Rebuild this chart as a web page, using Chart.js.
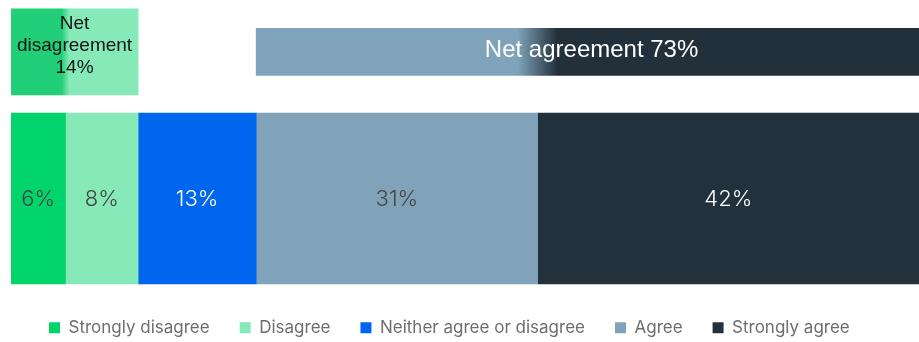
<!DOCTYPE html>
<html>
<head>
<meta charset="utf-8">
<script src="https://cdn.jsdelivr.net/npm/chart.js@4.4.1/dist/chart.umd.min.js"></script>
<style>
  html, body { margin: 0; padding: 0; background: #ffffff; }
  canvas { display: block; }
</style>
</head>
<body>
<canvas id="chart" width="919" height="342"></canvas>
<script>
// Response categories and their shares (%)
const categories = ['Strongly disagree', 'Disagree', 'Neither agree or disagree', 'Agree', 'Strongly agree'];
const shares = [6, 8, 13, 31, 42];

// Which categories roll up into the net bars
const disagreeIdx = [0, 1];
const agreeIdx = [3, 4];

// Net bar captions
const netDisagreeCaption = ['Net', 'disagreement'];
const netAgreeCaption = 'Net agreement';

// Styling
const fills = ['#00d46a', '#85e9b8', '#0066ee', '#80a3b9', '#22313c'];
const valueInk = ['#444444', '#444444', '#ffffff', '#444444', '#ffffff'];
const netDisagreeFill = ['#20cf78', '#86e9b8'];
const netAgreeFill = ['#7fa3b8', '#22303b'];

// Cumulative starts so each segment is a floating [start, end] bar
const starts = shares.map((_, i) => shares.slice(0, i).reduce((a, b) => a + b, 0));
const sumOf = idx => idx.reduce((a, i) => a + shares[i], 0);
const netDisagree = sumOf(disagreeIdx);
const netAgree = sumOf(agreeIdx);
const netAgreeStart = starts[agreeIdx[0]];
const netDisagreeStart = starts[disagreeIdx[0]];

// Gradient across a net bar, switching colour where its first part ends
function netGradient(firstPart, colors) {
  return (context) => {
    const chart = context.chart;
    const xs = chart.scales.x;
    const raw = context.raw;
    if (!xs || !Array.isArray(raw)) return colors[0];
    const x0 = xs.getPixelForValue(raw[0]);
    const x1 = xs.getPixelForValue(raw[1]);
    if (!isFinite(x0) || !isFinite(x1) || x1 === x0) return colors[0];
    const t = firstPart / (raw[1] - raw[0]);
    const g = chart.ctx.createLinearGradient(x0, 0, x1, 0);
    g.addColorStop(0, colors[0]);
    g.addColorStop(Math.max(0, t - 0.03), colors[0]);
    g.addColorStop(Math.min(1, t + 0.03), colors[1]);
    g.addColorStop(1, colors[1]);
    return g;
  };
}

const mainSets = categories.map((name, i) => ({
  label: name,
  data: [[starts[i], starts[i] + shares[i]]],
  backgroundColor: fills[i],
  borderWidth: 0,
  yAxisID: 'yMain',
  grouped: false,
  barThickness: 171
}));

const netSets = [
  {
    label: 'Net disagreement',
    data: [[netDisagreeStart, netDisagreeStart + netDisagree]],
    backgroundColor: netGradient(shares[disagreeIdx[0]], netDisagreeFill),
    borderWidth: 0,
    yAxisID: 'yNet',
    grouped: false,
    barThickness: 86
  },
  {
    label: 'Net agreement',
    data: [[netAgreeStart, netAgreeStart + netAgree]],
    backgroundColor: netGradient(shares[agreeIdx[0]], netAgreeFill),
    borderWidth: 0,
    yAxisID: 'yNet',
    grouped: false,
    barThickness: 47
  }
];

// Text drawn on the bars
const barText = {
  id: 'barText',
  afterDatasetsDraw(chart) {
    const ctx = chart.ctx;
    ctx.save();
    ctx.textAlign = 'center';

    // Segment values
    ctx.font = '300 22px Inter, "Noto Sans", sans-serif';
    ctx.textBaseline = 'middle';
    shares.forEach((v, i) => {
      const el = chart.getDatasetMeta(i).data[0];
      if (!el) return;
      ctx.fillStyle = valueInk[i];
      ctx.fillText(v + '%', (el.x + el.base) / 2, el.y + 1);
    });

    // Net disagreement caption (three lines)
    const nd = chart.getDatasetMeta(shares.length).data[0];
    if (nd) {
      ctx.font = '19px "Liberation Sans", Arial, sans-serif';
      ctx.textBaseline = 'alphabetic';
      ctx.fillStyle = '#151515';
      const lines = [...netDisagreeCaption, netDisagree + '%'];
      const cx = (nd.x + nd.base) / 2;
      lines.forEach((t, k) => ctx.fillText(t, cx, nd.y - 1 + (k - 1) * 22));
    }

    // Net agreement caption
    const na = chart.getDatasetMeta(shares.length + 1).data[0];
    if (na) {
      ctx.font = '24px "Liberation Sans", Arial, sans-serif';
      ctx.textBaseline = 'alphabetic';
      ctx.fillStyle = '#ffffff';
      ctx.fillText(netAgreeCaption + ' ' + netAgree + '%', (na.x + na.base) / 2 + 4, na.y + 5);
    }
    ctx.restore();
  }
};

// Nudge the legend row a little up and to the right of its default slot
const legendNudge = {
  id: 'legendNudge',
  afterLayout(chart) {
    const l = chart.legend;
    if (!l) return;
    l.top -= 4; l.bottom -= 4;
    l.left += 8; l.right += 8;
  }
};

new Chart(document.getElementById('chart'), {
  type: 'bar',
  data: {
    labels: ['Responses'],
    datasets: [...mainSets, ...netSets]
  },
  options: {
    indexAxis: 'y',
    responsive: false,
    animation: false,
    devicePixelRatio: 1,
    layout: { padding: { left: 11, right: 0, top: 0, bottom: 0 } },
    scales: {
      x: { type: 'linear', min: 0, max: 100, display: false, stacked: false },
      yMain: {
        type: 'category', position: 'left', display: false, offset: true,
        stack: 'rows', stackWeight: 189.6, grid: { display: false }
      },
      yNet: {
        type: 'category', position: 'left', display: false, offset: true,
        stack: 'rows', stackWeight: 103.7, grid: { display: false }
      }
    },
    plugins: {
      tooltip: { enabled: false },
      legend: {
        position: 'bottom',
        align: 'start',
        maxHeight: 48.7,
        labels: {
          filter: item => item.datasetIndex < shares.length,
          boxWidth: 11,
          boxHeight: 11,
          padding: 30,
          color: '#6e6e6e',
          font: { family: 'Inter, "Noto Sans", sans-serif', size: 17 }
        }
      }
    }
  },
  plugins: [barText, legendNudge]
});
</script>
</body>
</html>
